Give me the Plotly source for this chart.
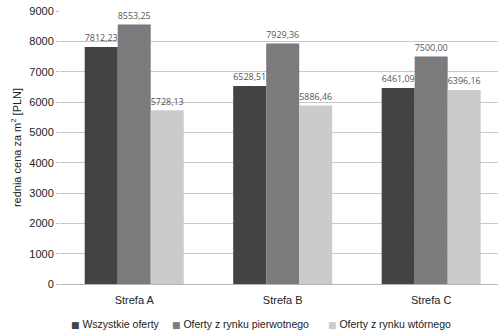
import plotly.graph_objects as go

# Average offer price per m² by zone
zones = ["Strefa A", "Strefa B", "Strefa C"]
all_offers = [7812.23, 6528.51, 6461.09]
primary_market = [8553.25, 7929.36, 7500.00]
secondary_market = [5728.13, 5886.46, 6396.16]
y_ticks = [0, 1000, 2000, 3000, 4000, 5000, 6000, 7000, 8000, 9000]

series_names = ["Wszystkie oferty", "Oferty z rynku pierwotnego", "Oferty z rynku wtórnego"]
series_values = [all_offers, primary_market, secondary_market]
series_colors = ["#434345", "#7b7b7d", "#cbcbcd"]

fig = go.Figure()
for name, vals, color in zip(series_names, series_values, series_colors):
    fig.add_trace(go.Bar(
        x=zones, y=vals, name=name,
        marker=dict(color=color, line=dict(width=0)),
        texttemplate="%{y:.2f}", textposition="outside",
        textfont=dict(family="Open Sans, sans-serif", size=10.5, color="#555555"),
        cliponaxis=False,
    ))

# Compact key row under the axis: coloured square followed by the series name
key_x = [0.02, 0.252, 0.607]
for name, color, kx in zip(series_names, series_colors, key_x):
    fig.add_annotation(
        xref="paper", yref="paper", x=kx, y=-0.147,
        xanchor="left", yanchor="middle", showarrow=False,
        text=f"<span style='color:{color};font-family:DejaVu Sans;font-size:9px'>■</span> {name}",
        font=dict(family="Liberation Sans, Arial, sans-serif", size=10.5, color="#222"),
    )

fig.update_layout(
    width=498, height=331,
    margin=dict(l=60, r=0, t=11, b=47, autoexpand=False),
    paper_bgcolor="white", plot_bgcolor="white",
    separators=", ",
    barmode="group", bargap=0.333, bargroupgap=0,
    showlegend=False,
    font=dict(family="Liberation Sans, Arial, sans-serif", size=11, color="#222"),
    xaxis=dict(
        range=[-0.5, 2.45], showgrid=False,
        showline=True, linecolor="#b8b8b8", linewidth=1,
        ticks="", ticklabelstandoff=6, tickfont=dict(size=11, color="#222"),
    ),
    yaxis=dict(
        range=[0, 9000], tickvals=y_ticks,
        showgrid=True, gridcolor="#c8c8c8", gridwidth=1,
        zeroline=False, showline=False,
        ticks="outside", ticklen=3, tickcolor="#b8b8b8",
        tickfont=dict(size=11, color="#222"),
        title=dict(text="rednia cena za m<sup>2</sup> [PLN]", font=dict(size=11, color="#222"), standoff=5),
    ),
)

fig.write_html("out.html")
